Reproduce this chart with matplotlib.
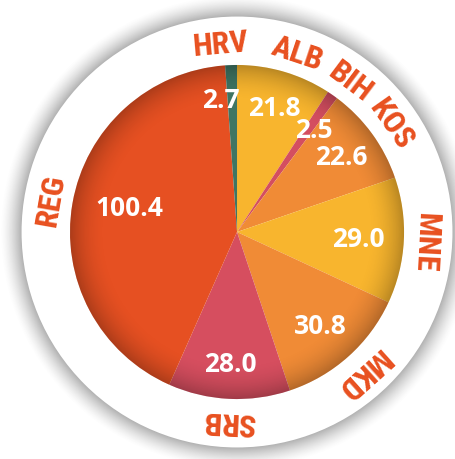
import matplotlib
matplotlib.use("Agg")
import matplotlib.pyplot as plt
import numpy as np
from matplotlib.patches import Circle

# slice data, clockwise from twelve o'clock
codes = ["ALB", "BIH", "KOS", "MNE", "MKD", "SRB", "REG", "HRV"]
values = [21.8, 2.5, 22.6, 29.0, 30.8, 28.0, 100.4, 2.7]
colors = ["#F8B52E", "#D44E60", "#F08B36", "#F8B52E",
          "#F08B36", "#D64E5F", "#E65022", "#3F7563"]
value_dist = [0.78, 0.77, 0.77, 0.73, 0.75, 0.79, 0.66, 0.80]
value_nudge = [0, -2, 0, 0, 0, 0, -3, 5]   # degrees
label_nudge = [-2, -2, -1, 0, 0, 0, 0, 3]  # degrees

LABEL_RED = "#E8501F"
R_RING = 1.29
R_LABEL = 1.13
XLIM = (-1.419, 1.305)
YLIM = (-1.359, 1.395)
EXTENT = XLIM + YLIM

fig = plt.figure(figsize=(4.55, 4.6), dpi=100)
ax = fig.add_axes([0, 0, 1, 1])

wedges, _ = ax.pie(values, colors=colors, startangle=90, counterclock=False,
                   radius=1.0, wedgeprops=dict(linewidth=0))
for w in wedges:
    w.set_zorder(2)

# pie() resets the limits, so fix them afterwards
ax.set_xlim(*XLIM)
ax.set_ylim(*YLIM)
ax.set_aspect("equal")
ax.axis("off")

# soft grey shadow around the white ring
xx, yy = np.meshgrid(np.linspace(*XLIM, 600), np.linspace(*YLIM, 600))
rr = np.hypot(xx, yy)
shade = np.clip(1 - (rr - R_RING + 0.01) / 0.14, 0, 1) ** 1.5
shadow = np.zeros(rr.shape + (4,))
shadow[..., :3] = 0.42
shadow[..., 3] = 0.6 * shade
ax.imshow(shadow, extent=EXTENT, origin="lower", zorder=0, interpolation="bilinear")
ax.add_patch(Circle((0, 0), R_RING, facecolor="white", edgecolor="none", zorder=1))

# darken the rim of the pie a little
edge = np.clip((rr - 0.78) / 0.22, 0, 1) ** 2
vign = np.zeros(rr.shape + (4,))
vign[..., 3] = 0.25 * edge
im = ax.imshow(vign, extent=EXTENT, origin="lower", zorder=3, interpolation="bilinear")
im.set_clip_path(Circle((0, 0), 1.0, transform=ax.transData))
ax.set_xlim(*XLIM)
ax.set_ylim(*YLIM)

narrow = ["Noto Sans Condensed", "DejaVu Sans Condensed", "Liberation Sans Narrow",
          "Roboto Condensed", "Roboto"]

for w, code, val, d, nud, lnud in zip(wedges, codes, values, value_dist,
                                      value_nudge, label_nudge):
    mid = (w.theta1 + w.theta2) / 2
    a = np.radians(mid + nud)
    ax.text(d * np.cos(a), d * np.sin(a), f"{val:.1f}", color="white",
            fontsize=19, fontweight="bold", family=["Open Sans", "DejaVu Sans"],
            ha="center", va="center", zorder=5)
    b = mid + lnud
    ax.text(R_LABEL * np.cos(np.radians(b)), R_LABEL * np.sin(np.radians(b)), code,
            color=LABEL_RED, fontsize=23, fontweight="bold", fontstretch="condensed",
            family=narrow, rotation=b - 90, rotation_mode="anchor",
            ha="center", va="center", zorder=5)

fig.savefig("out.png", dpi=100)
